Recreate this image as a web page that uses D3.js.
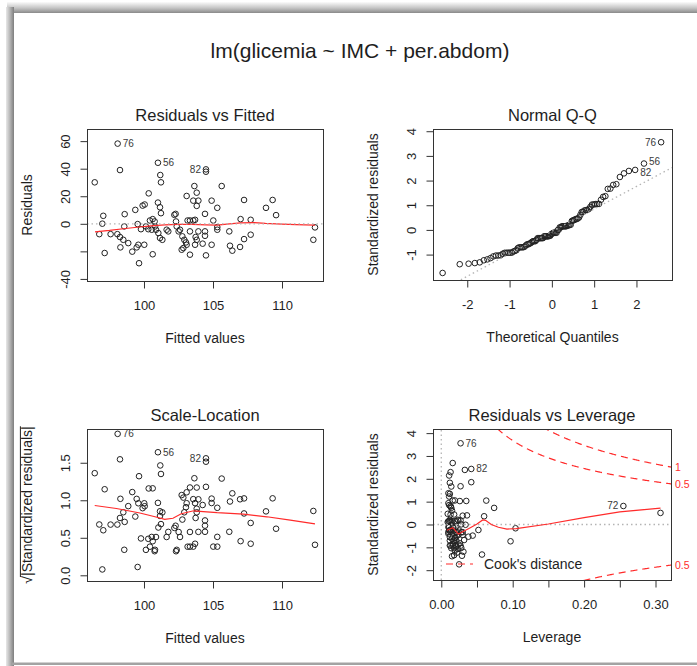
<!DOCTYPE html>
<html>
<head>
<meta charset="utf-8">
<script src="https://cdn.jsdelivr.net/npm/d3@7"></script>
<style>
  body { margin: 0; background: #fff; }
  svg text { font-family: "Liberation Sans", Arial, sans-serif; fill: #1e1e1e; }
</style>
</head>
<body>
<svg id="chart" width="697" height="666"></svg>
<script>
// ---- data ----
const fitted = [96.43,97.05,96.98,96.76,97.15,97.58,98.09,98.26,98.60,98.57,
  98.07,98.26,98.50,98.29,98.86,99.37,99.15,99.47,99.59,100.02,
  99.54,99.64,99.90,100.05,99.78,100.34,100.14,100.43,100.63,100.77,
  100.63,101.01,101.18,101.23,101.01,101.16,101.23,100.87,101.04,101.16,
  101.33,100.56,100.31,100.80,101.64,101.76,102.20,102.29,102.37,102.61,
  102.73,102.85,102.78,102.92,102.51,102.32,103.09,103.65,103.82,103.57,
  103.94,103.82,103.16,103.33,103.57,103.70,103.33,103.04,103.09,103.33,
  103.70,103.82,103.94,104.49,104.49,104.42,104.42,104.42,104.25,104.49,
  104.90,104.90,105.02,105.31,105.31,105.31,105.63,106.18,106.23,106.40,
  106.96,107.25,107.25,107.00,107.73,107.73,108.84,109.32,109.57,112.39,
  112.27,103.74];
const resid = [30.1,5.8,0.1,-7.5,-21.2,-7.5,58.2,39.0,7.0,-1.9,
  -7.5,-9.6,-11.6,-17.1,-14.0,10.1,-20.2,-17.1,-15.2,-15.2,
  -0.2,-28.6,13.2,14.0,-3.9,22.1,-1.9,2.4,3.4,1.7,
  -22.1,44.3,35.4,30.1,15.4,12.0,7.7,-4.3,-6.7,-10.3,
  -11.6,-4.3,-3.9,-1.9,-4.3,-5.5,6.5,7.2,-1.9,-4.3,
  -18.8,-17.6,-9.1,-11.6,-5.5,1.7,20.2,27.4,22.6,16.8,
  16.8,13.0,2.4,2.4,2.4,2.9,-5.5,-13.5,-15.2,-22.4,
  -15.2,-11.6,-5.5,39.5,37.8,7.2,-5.5,-8.7,-14.4,-22.9,
  -15.2,16.8,2.4,11.6,-2.4,-4.3,27.4,-5.5,-15.9,-19.5,
  -16.8,-11.1,17.3,3.4,2.9,-7.9,11.6,17.3,6.3,-2.6,
  -11.6,-9.6];
const leverage = [0.042,0.060,0.028,0.030,0.057,0.022,0.027,0.033,0.307,0.020,
  0.024,0.019,0.021,0.018,0.016,0.015,0.022,0.014,0.013,0.012,
  0.034,0.025,0.013,0.011,0.052,0.012,0.010,0.011,0.012,0.013,
  0.018,0.016,0.011,0.012,0.010,0.014,0.009,0.011,0.010,0.015,
  0.012,0.017,0.013,0.016,0.012,0.020,0.036,0.013,0.011,0.014,
  0.019,0.023,0.012,0.018,0.010,0.009,0.011,0.027,0.010,0.035,
  0.026,0.013,0.010,0.015,0.019,0.024,0.013,0.026,0.016,0.029,
  0.021,0.017,0.022,0.042,0.013,0.018,0.028,0.038,0.024,0.015,
  0.027,0.063,0.021,0.255,0.017,0.025,0.014,0.030,0.020,0.031,
  0.028,0.032,0.016,0.023,0.027,0.044,0.074,0.019,0.030,0.104,
  0.097,0.020];
const sigma = 16.6;          // residual standard error
const nParams = 3;           // intercept + IMC + per.abdom
const cookLevels = [0.5, 1];

// observation labels (index into the arrays, label text)
const residIds = [6, 31, 73];
const residIdNames = ["76", "56", "82"];
const levIds = [6, 73, 83];
const levIdNames = ["76", "82", "72"];

// red smoothers
const smoothRvf = [[96.45,-5.8],[97.5,-4.8],[98.5,-3.6],[99.5,-2.5],[100.5,-1.5],[101.5,-0.8],
  [102.5,-0.4],[103.5,-0.4],[104.5,-0.8],[105.3,-1.0],[106.0,-0.2],[107.0,0.7],[108.0,0.9],
  [108.8,0.3],[110.0,-0.3],[111.0,-0.6],[112.39,-0.9]];
const smoothSL = [[96.43,0.93],[98.0,0.89],[99.7,0.83],[100.8,0.78],[101.5,0.745],[102.1,0.76],
  [102.7,0.82],[103.6,0.86],[104.3,0.85],[105.3,0.835],[107.2,0.815],[108.9,0.78],
  [110.6,0.735],[112.39,0.685]];
const smoothLev = [[0.008,-0.25],[0.012,-0.2],[0.016,-0.14],[0.020,-0.28],[0.024,-0.42],
  [0.030,-0.32],[0.040,-0.15],[0.050,0.02],[0.058,0.2],[0.062,0.18],[0.070,0.0],[0.080,-0.12],
  [0.092,-0.2],[0.105,-0.18],[0.15,0.02],[0.20,0.3],[0.25,0.55],[0.307,0.72]];
const qqLine = [-0.06, 0.91];   // intercept, slope of the dotted reference line

// axis ranges and ticks
const fittedDomain = [95.87, 112.97];
const rvfDomain = [-41.5, 68.8];
const qqXDomain = [-2.81, 2.84];
const qqYDomain = [-2.03, 4.09];
const slDomain = [-0.076, 1.95];
const levXDomain = [-0.0116, 0.3217];
const levYDomain = [-2.43, 4.18];

const fittedTicks = [100, 105, 110];
const fittedTickLabels = ["100", "105", "110"];
const rvfTicks = [-40, -20, 0, 20, 40, 60];
const rvfTickLabels = ["-40", "", "0", "20", "40", "60"];
const qqXTicks = [-2, -1, 0, 1, 2];
const qqXTickLabels = ["-2", "-1", "0", "1", "2"];
const qqYTicks = [-1, 0, 1, 2, 3, 4];
const qqYTickLabels = ["-1", "0", "1", "2", "3", "4"];
const slTicks = [0, 0.5, 1, 1.5];
const slTickLabels = ["0.0", "0.5", "1.0", "1.5"];
const levXTicks = [0, 0.05, 0.10, 0.15, 0.20, 0.25, 0.30];
const levXTickLabels = ["0.00", "", "0.10", "", "0.20", "", "0.30"];
const levYTicks = [-2, -1, 0, 1, 2, 3, 4];
const levYTickLabels = ["-2", "-1", "0", "1", "2", "3", "4"];

// ---- derived quantities ----
const n = fitted.length;
const stdRes = resid.map((r, i) => r / (sigma * Math.sqrt(1 - leverage[i])));
const sqrtStd = stdRes.map(v => Math.sqrt(Math.abs(v)));

// inverse normal cdf (Acklam)
function qnorm(p) {
  const a = [-39.69683028665376, 220.9460984245205, -275.9285104469687, 138.3577518672690, -30.66479806614716, 2.506628277459239];
  const b = [-54.47609879822406, 161.5858368580409, -155.6989798598866, 66.80131188771972, -13.28068155288572];
  const c = [-0.007784894002430293, -0.3223964580411365, -2.400758277161838, -2.549732539343734, 4.374664141464968, 2.938163982698783];
  const d = [0.007784695709041462, 0.3224671290700398, 2.445134137142996, 3.754408661907416];
  const lo = 0.02425;
  if (p < lo || p > 1 - lo) {
    const q = Math.sqrt(-2 * Math.log(p < lo ? p : 1 - p));
    const v = (((((c[0]*q+c[1])*q+c[2])*q+c[3])*q+c[4])*q+c[5]) / ((((d[0]*q+d[1])*q+d[2])*q+d[3])*q+1);
    return p < lo ? v : -v;
  }
  const q = p - 0.5, r = q * q;
  return (((((a[0]*r+a[1])*r+a[2])*r+a[3])*r+a[4])*r+a[5])*q / (((((b[0]*r+b[1])*r+b[2])*r+b[3])*r+b[4])*r+1);
}
const order = d3.range(n).sort((i, j) => stdRes[i] - stdRes[j]);
const theo = new Array(n);
order.forEach((idx, k) => { theo[idx] = qnorm((k + 0.5) / n); });

// ---- drawing ----
const svg = d3.select("#chart");
const defs = svg.append("defs");

// screenshot frame (grey shadow border)
const gTop = defs.append("linearGradient").attr("id", "gTop").attr("x1", 0).attr("y1", 0).attr("x2", 0).attr("y2", 1);
gTop.append("stop").attr("offset", 0).attr("stop-color", "#fbfbfb");
gTop.append("stop").attr("offset", 0.55).attr("stop-color", "#c4c4c4");
gTop.append("stop").attr("offset", 1).attr("stop-color", "#8a8a8a");
const gLeft = defs.append("linearGradient").attr("id", "gLeft").attr("x1", 0).attr("y1", 0).attr("x2", 1).attr("y2", 0);
gLeft.append("stop").attr("offset", 0).attr("stop-color", "#e8e8e8");
gLeft.append("stop").attr("offset", 0.5).attr("stop-color", "#b5b5b5");
gLeft.append("stop").attr("offset", 1).attr("stop-color", "#7e7e7e");
svg.append("rect").attr("x", 7).attr("y", 2).attr("width", 690).attr("height", 11).attr("fill", "url(#gTop)");
svg.append("rect").attr("x", 6).attr("y", 7).attr("width", 8).attr("height", 659).attr("fill", "url(#gLeft)");
svg.append("rect").attr("x", 12).attr("y", 662.5).attr("width", 685).attr("height", 2.5).attr("fill", "#a3a3a3");

svg.append("text")
  .attr("x", 360).attr("y", 58)
  .attr("text-anchor", "middle")
  .style("font-size", "21px")
  .text("lm(glicemia ~ IMC + per.abdom)");

const red = "#ff2b2b";
const grey = "#b4b4b4";

// label points right of them, or left when in the right half of the labelled points
function textId(g, xs, ys, labels, nudge) {
  const mid = (d3.min(xs) + d3.max(xs)) / 2;
  g.selectAll(null).data(labels).join("text")
    .attr("x", (d, i) => xs[i] > mid ? xs[i] - 5 : xs[i] + 5)
    .attr("y", (d, i) => ys[i] + (nudge ? nudge[i] : 0))
    .attr("dy", "0.35em")
    .attr("text-anchor", (d, i) => xs[i] > mid ? "end" : "start")
    .style("font-size", "10px")
    .style("fill", "#3a3a3a")
    .text(d => d);
}

function panel(id, box, xDom, yDom, cfg) {
  const x = d3.scaleLinear().domain(xDom).range([box.l, box.r]);
  const y = d3.scaleLinear().domain(yDom).range([box.b, box.t]);
  const g = svg.append("g").attr("id", id);

  defs.append("clipPath").attr("id", id + "-clip")
    .append("rect").attr("x", box.l).attr("y", box.t)
    .attr("width", box.r - box.l).attr("height", box.b - box.t);
  const inner = g.append("g").attr("clip-path", `url(#${id}-clip)`);

  // points
  inner.append("g").selectAll("circle")
    .data(cfg.xs)
    .join("circle")
      .attr("cx", d => x(d))
      .attr("cy", (d, i) => y(cfg.ys[i]))
      .attr("r", 2.8)
      .attr("fill", "none")
      .attr("stroke", "#222")
      .attr("stroke-width", 1);

  if (cfg.draw) cfg.draw(inner, x, y);

  // box
  g.append("rect")
    .attr("x", box.l + 0.5).attr("y", box.t + 0.5)
    .attr("width", box.r - box.l).attr("height", box.b - box.t)
    .attr("fill", "none").attr("stroke", "#333");

  // axes
  const xa = g.append("g")
    .attr("transform", `translate(0,${box.b + 0.5})`)
    .call(d3.axisBottom(x).tickValues(cfg.xTicks).tickFormat((d, i) => cfg.xLabels[i]).tickSize(7).tickSizeOuter(0));
  const ya = g.append("g")
    .attr("transform", `translate(${box.l + 0.5},0)`)
    .call(d3.axisLeft(y).tickValues(cfg.yTicks).tickFormat((d, i) => cfg.yLabels[i]).tickSize(7).tickSizeOuter(0));
  [xa, ya].forEach(a => {
    a.select(".domain").remove();
    a.attr("font-family", null).attr("font-size", null).attr("color", "#333");
    a.selectAll(".tick text").style("font-size", "13px").style("fill", "#1e1e1e");
  });
  xa.selectAll(".tick text").attr("y", 24).attr("dy", "0.35em");
  ya.selectAll(".tick text")
    .attr("x", 0).attr("y", -22).attr("dy", "0.35em")
    .attr("text-anchor", "middle")
    .attr("transform", "rotate(-90)");

  // titles
  g.append("text")
    .attr("x", (box.l + box.r) / 2).attr("y", box.t - 8)
    .attr("text-anchor", "middle")
    .style("font-size", "16.5px")
    .text(cfg.title);
  g.append("text")
    .attr("x", (box.l + box.r) / 2).attr("y", box.b + 57)
    .attr("dy", "0.35em")
    .attr("text-anchor", "middle")
    .style("font-size", "14px")
    .text(cfg.xlab);
  const yl = g.append("g")
    .attr("transform", `translate(${box.l - 60},${(box.t + box.b) / 2}) rotate(-90)`);
  const ylt = yl.append("text")
    .attr("dy", "0.35em")
    .attr("text-anchor", "middle")
    .style("font-size", "14px")
    .text(cfg.ylab);
  if (cfg.radical) {
    // overbar of the square root sign
    const bb = ylt.node().getBBox();
    const rootW = ylt.node().getSubStringLength(0, 1);
    yl.append("line")
      .attr("x1", bb.x + rootW - 1).attr("x2", bb.x + bb.width)
      .attr("y1", bb.y + 1.5).attr("y2", bb.y + 1.5)
      .attr("stroke", "#1e1e1e").attr("stroke-width", 1);
  }

  if (cfg.after) cfg.after(g, x, y);
}

const line = (x, y) => d3.line().x(d => x(d[0])).y(d => y(d[1]));

// Residuals vs Fitted
panel("rvf", {l: 87, r: 323, t: 129, b: 281}, fittedDomain, rvfDomain, {
  xs: fitted, ys: resid,
  title: "Residuals vs Fitted", xlab: "Fitted values", ylab: "Residuals",
  xTicks: fittedTicks, xLabels: fittedTickLabels, yTicks: rvfTicks, yLabels: rvfTickLabels,
  draw: (g, x, y) => {
    g.append("path").attr("d", line(x, y)(smoothRvf))
      .attr("fill", "none").attr("stroke", red).attr("stroke-width", 1.2);
    g.append("line").attr("x1", x.range()[0]).attr("x2", x.range()[1])
      .attr("y1", y(0)).attr("y2", y(0))
      .attr("stroke", grey).attr("stroke-width", 1.3).attr("stroke-dasharray", "1.5,3");
  },
  after: (g, x, y) => textId(g, residIds.map(i => x(fitted[i])), residIds.map(i => y(resid[i])), residIdNames)
});

// Normal Q-Q
panel("qq", {l: 433, r: 672, t: 129, b: 280}, qqXDomain, qqYDomain, {
  xs: theo, ys: stdRes,
  title: "Normal Q-Q", xlab: "Theoretical Quantiles", ylab: "Standardized residuals",
  xTicks: qqXTicks, xLabels: qqXTickLabels, yTicks: qqYTicks, yLabels: qqYTickLabels,
  draw: (g, x, y) => {
    const [x0, x1] = x.domain();
    g.append("line")
      .attr("x1", x(x0)).attr("y1", y(qqLine[0] + qqLine[1] * x0))
      .attr("x2", x(x1)).attr("y2", y(qqLine[0] + qqLine[1] * x1))
      .attr("stroke", grey).attr("stroke-width", 1.3).attr("stroke-dasharray", "1.5,3");
  },
  after: (g, x, y) => textId(g, residIds.map(i => x(theo[i])), residIds.map(i => y(stdRes[i])), residIdNames, [0, -2, 3])
});

// Scale-Location
panel("sl", {l: 87, r: 323, t: 429, b: 581}, fittedDomain, slDomain, {
  xs: fitted, ys: sqrtStd,
  title: "Scale-Location", xlab: "Fitted values", ylab: "\u221A|Standardized residuals|", radical: true,
  xTicks: fittedTicks, xLabels: fittedTickLabels, yTicks: slTicks, yLabels: slTickLabels,
  draw: (g, x, y) => {
    g.append("path").attr("d", line(x, y)(smoothSL))
      .attr("fill", "none").attr("stroke", red).attr("stroke-width", 1.2);
  },
  after: (g, x, y) => textId(g, residIds.map(i => x(fitted[i])), residIds.map(i => y(sqrtStd[i])), residIdNames)
});

// Residuals vs Leverage
panel("lev", {l: 433, r: 671, t: 429, b: 580}, levXDomain, levYDomain, {
  xs: leverage, ys: stdRes,
  title: "Residuals vs Leverage", xlab: "Leverage", ylab: "Standardized residuals",
  xTicks: levXTicks, xLabels: levXTickLabels, yTicks: levYTicks, yLabels: levYTickLabels,
  draw: (g, x, y) => {
    g.append("line").attr("x1", x.range()[0]).attr("x2", x.range()[1])
      .attr("y1", y(0)).attr("y2", y(0))
      .attr("stroke", grey).attr("stroke-width", 1.3).attr("stroke-dasharray", "1.5,3");
    g.append("line").attr("x1", x(0)).attr("x2", x(0))
      .attr("y1", y.range()[0]).attr("y2", y.range()[1])
      .attr("stroke", grey).attr("stroke-width", 1.3).attr("stroke-dasharray", "1.5,3");
    g.append("path").attr("d", line(x, y)(smoothLev))
      .attr("fill", "none").attr("stroke", red).attr("stroke-width", 1.2);
    // Cook's distance contours
    const hh = d3.range(0.002, x.domain()[1] + 0.001, 0.001);
    cookLevels.forEach(D => {
      [1, -1].forEach(sgn => {
        const pts = hh.map(h => [h, sgn * Math.sqrt(D * nParams * (1 - h) / h)]);
        g.append("path").attr("d", line(x, y)(pts))
          .attr("fill", "none").attr("stroke", red).attr("stroke-width", 1.2)
          .attr("stroke-dasharray", "7,5");
      });
    });
  },
  after: (g, x, y) => {
    textId(g, levIds.map(i => x(leverage[i])), levIds.map(i => y(stdRes[i])), levIdNames);
    const xmax = x.domain()[1];
    cookLevels.forEach(D => {
      const v = Math.sqrt(D * nParams * (1 - xmax) / xmax);
      [v, -v].forEach(yy => {
        if (yy < y.domain()[0] || yy > y.domain()[1]) return;
        g.append("text").attr("x", x.range()[1] + 4).attr("y", y(yy))
          .attr("dy", "0.35em").style("font-size", "10.5px").style("fill", red)
          .text(String(D));
      });
    });
    // legend
    const ly = y.range()[0] - 16;
    const lx = x.range()[0];
    g.append("line").attr("x1", lx + 13).attr("x2", lx + 40).attr("y1", ly).attr("y2", ly)
      .attr("stroke", red).attr("stroke-width", 1.2).attr("stroke-dasharray", "7,5");
    g.append("text").attr("x", lx + 51).attr("y", ly).attr("dy", "0.35em")
      .style("font-size", "14px").text("Cook's distance");
  }
});
</script>
</body>
</html>
